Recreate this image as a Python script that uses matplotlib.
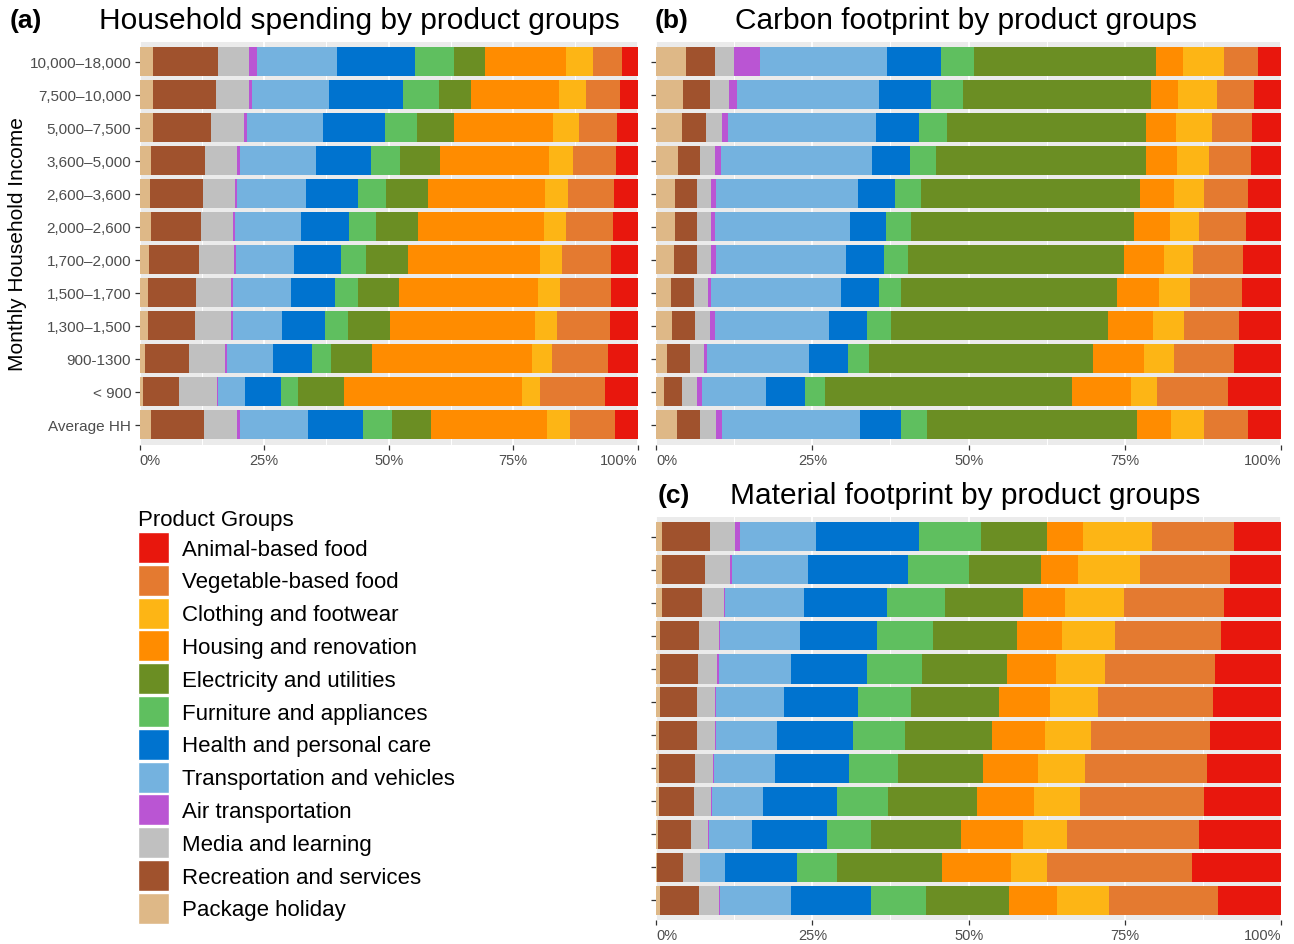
import numpy as np
import matplotlib
matplotlib.use('Agg')
import matplotlib.pyplot as plt
from matplotlib.patches import Patch

plt.rcParams['font.family'] = ['Liberation Sans', 'DejaVu Sans']

# income classes, top row first
incomes = ["10,000–18,000", "7,500–10,000", "5,000–7,500", "3,600–5,000",
           "2,600–3,600", "2,000–2,600", "1,700–2,000", "1,500–1,700",
           "1,300–1,500", "900-1300", "< 900", "Average HH"]

# stacking order, left to right
groups = ["Package holiday", "Recreation and services", "Media and learning",
          "Air transportation", "Transportation and vehicles",
          "Health and personal care", "Furniture and appliances",
          "Electricity and utilities", "Housing and renovation",
          "Clothing and footwear", "Vegetable-based food", "Animal-based food"]

colors = ["#DEB887", "#A0522D", "#C0C0C0", "#BA55D3", "#74B2DF", "#0073CF",
          "#5FBF5F", "#6B8E23", "#FF8C00", "#FDB515", "#E47A30", "#E8170D"]

# shares (%) per income class, columns follow `groups`
spending = [
    [2.8, 13.0, 6.2, 1.7, 16.0, 15.7, 7.7, 6.3, 16.2, 5.5, 5.9, 3.1],
    [2.8, 12.6, 6.6, 0.5, 15.5, 14.8, 7.2, 6.5, 17.6, 5.4, 6.8, 3.6],
    [2.7, 11.7, 6.6, 0.5, 15.4, 12.4, 6.4, 7.4, 19.9, 5.2, 7.7, 4.1],
    [2.4, 10.7, 6.5, 0.5, 15.3, 11.0, 5.8, 8.1, 21.8, 4.8, 8.6, 4.4],
    [2.2, 10.5, 6.5, 0.3, 13.9, 10.4, 5.7, 8.4, 23.5, 4.6, 9.2, 4.8],
    [2.3, 10.0, 6.5, 0.3, 13.3, 9.7, 5.3, 8.5, 25.2, 4.5, 9.4, 5.0],
    [2.0, 10.0, 6.9, 0.4, 11.8, 9.3, 5.2, 8.3, 26.6, 4.4, 9.9, 5.3],
    [1.7, 9.6, 7.1, 0.3, 11.8, 8.8, 4.6, 8.2, 28.0, 4.4, 10.2, 5.4],
    [1.8, 9.3, 7.2, 0.4, 10.0, 8.5, 4.7, 8.3, 29.2, 4.4, 10.6, 5.6],
    [1.2, 8.8, 7.2, 0.3, 9.2, 7.9, 3.8, 8.3, 32.1, 4.0, 11.2, 6.0],
    [0.7, 7.2, 7.6, 0.3, 5.4, 7.2, 3.4, 9.2, 35.8, 3.6, 13.1, 6.6],
    [2.3, 10.7, 6.6, 0.5, 13.7, 11.0, 5.8, 7.8, 23.3, 4.7, 8.9, 4.6],
]

carbon = [
    [4.8, 4.7, 2.9, 4.2, 20.3, 8.6, 5.4, 29.1, 4.2, 6.7, 5.3, 3.8],
    [4.4, 4.3, 3.0, 1.3, 22.7, 8.4, 5.1, 30.2, 4.3, 6.2, 6.0, 4.3],
    [4.1, 3.9, 2.6, 1.0, 23.6, 6.9, 4.5, 31.9, 4.7, 5.8, 6.4, 4.7],
    [3.5, 3.6, 2.4, 0.9, 24.2, 6.1, 4.2, 33.5, 5.0, 5.1, 6.7, 4.9],
    [3.0, 3.6, 2.2, 0.7, 22.7, 6.0, 4.1, 35.0, 5.4, 4.7, 7.1, 5.3],
    [3.1, 3.5, 2.2, 0.7, 21.5, 5.8, 3.9, 35.6, 5.8, 4.7, 7.4, 5.7],
    [2.8, 3.7, 2.3, 0.8, 20.7, 6.1, 3.9, 34.5, 6.3, 4.7, 8.0, 6.1],
    [2.4, 3.6, 2.3, 0.5, 20.8, 6.0, 3.6, 34.5, 6.7, 4.9, 8.3, 6.3],
    [2.6, 3.6, 2.4, 0.9, 18.2, 6.1, 3.9, 34.8, 7.1, 5.0, 8.8, 6.8],
    [1.8, 3.6, 2.2, 0.6, 16.3, 6.2, 3.4, 35.7, 8.1, 4.9, 9.6, 7.5],
    [1.2, 2.9, 2.5, 0.7, 10.3, 6.3, 3.2, 39.4, 9.4, 4.3, 11.2, 8.6],
    [3.4, 3.7, 2.5, 1.0, 22.1, 6.5, 4.2, 33.6, 5.4, 5.2, 7.1, 5.3],
]

material = [
    [1.0, 7.6, 4.1, 0.7, 12.3, 16.4, 9.9, 10.7, 5.8, 11.0, 13.2, 7.5],
    [0.9, 6.9, 4.1, 0.3, 12.2, 16.0, 9.8, 11.5, 6.0, 9.9, 14.4, 8.2],
    [0.9, 6.4, 3.5, 0.2, 12.6, 13.3, 9.3, 12.5, 6.7, 9.4, 16.0, 9.2],
    [0.7, 6.1, 3.3, 0.2, 12.7, 12.3, 9.0, 13.4, 7.1, 8.5, 17.0, 9.6],
    [0.7, 6.0, 3.1, 0.2, 11.6, 12.2, 8.8, 13.6, 7.7, 7.9, 17.6, 10.6],
    [0.7, 5.8, 2.9, 0.2, 10.8, 11.9, 8.5, 14.1, 8.1, 7.7, 18.3, 11.0],
    [0.5, 6.0, 2.9, 0.2, 9.8, 12.1, 8.4, 13.9, 8.4, 7.5, 19.0, 11.4],
    [0.5, 5.7, 2.9, 0.1, 9.8, 11.8, 7.9, 13.5, 8.8, 7.6, 19.5, 11.8],
    [0.5, 5.5, 2.8, 0.2, 8.1, 11.8, 8.2, 14.2, 9.1, 7.4, 19.8, 12.4],
    [0.3, 5.3, 2.7, 0.1, 7.0, 11.9, 7.1, 14.3, 10.0, 7.0, 21.1, 13.2],
    [0.2, 4.1, 2.7, 0.1, 3.9, 11.6, 6.4, 16.8, 10.9, 5.8, 23.2, 14.3],
    [0.7, 6.1, 3.3, 0.1, 11.4, 12.8, 8.8, 13.3, 7.6, 8.4, 17.3, 10.2],
]

W, H = 1294, 945
fig = plt.figure(figsize=(W / 100, H / 100), dpi=100)


def box(l, t, r, b):
    return [l / W, 1 - b / H, (r - l) / W, (b - t) / H]


def stacked(ax, data, show_labels):
    vals = np.array(data, dtype=float)
    vals = 100 * vals / vals.sum(axis=1, keepdims=True)
    y = np.arange(len(incomes))
    left = np.zeros(len(incomes))
    for j, g in enumerate(groups):
        ax.barh(y, vals[:, j], left=left, height=0.88, color=colors[j],
                edgecolor='none', zorder=3)
        left += vals[:, j]
    ax.set_xlim(0, 100)
    ax.set_ylim(len(incomes) - 0.4, -0.6)
    ax.set_facecolor('#EBEBEB')
    for s in ax.spines.values():
        s.set_visible(False)
    ax.set_xticks([0, 25, 50, 75, 100])
    ax.set_xticklabels(["0%", "25%", "50%", "75%", "100%"])
    ax.set_xticks([12.5, 37.5, 62.5, 87.5], minor=True)
    ax.grid(which='major', axis='x', color='white', lw=1.3, zorder=1)
    ax.grid(which='minor', axis='x', color='white', lw=0.7, zorder=1)
    ax.set_yticks(y)
    ax.set_yticklabels(incomes if show_labels else [])
    ax.tick_params(axis='both', which='major', length=3.5, width=0.9,
                   color='#333333', labelcolor='#4D4D4D', pad=2.5)
    ax.tick_params(axis='x', labelsize=10.5)
    ax.tick_params(axis='y', labelsize=11)
    ax.tick_params(which='minor', length=0)
    # keep the end labels inside the panel
    xl = ax.get_xticklabels()
    xl[0].set_horizontalalignment('left')
    xl[-1].set_horizontalalignment('right')


ax_a = fig.add_axes(box(139.5, 43, 637.7, 445.6))
ax_b = fig.add_axes(box(656, 43, 1281.3, 445.6))
ax_c = fig.add_axes(box(656, 518, 1281.3, 921.1))

stacked(ax_a, spending, True)
stacked(ax_b, carbon, False)
stacked(ax_c, material, False)

ax_a.set_ylabel("Monthly Household Income", fontsize=15)
ax_a.yaxis.set_label_coords((27 - 139.5) / 498.2, 0.5)

# panel titles
fig.text(10 / W, 1 - 21 / H, "(a)", fontsize=19, fontweight='bold', va='center')
fig.text(99 / W, 1 - 21 / H, "Household spending by product groups",
         fontsize=21.5, va='center')
fig.text(655 / W, 1 - 21 / H, "(b)", fontsize=19, fontweight='bold', va='center')
fig.text(735 / W, 1 - 21 / H, "Carbon footprint by product groups",
         fontsize=21.5, va='center')
fig.text(658 / W, 1 - 496 / H, "(c)", fontsize=19, fontweight='bold', va='center')
fig.text(730 / W, 1 - 496 / H, "Material footprint by product groups",
         fontsize=21.5, va='center')

# legend, listed from the right end of the bars
handles = [Patch(facecolor=colors[j], edgecolor='white', lw=1)
           for j in range(len(groups) - 1, -1, -1)]
labels = [groups[j] for j in range(len(groups) - 1, -1, -1)]
fig.legend(handles, labels, loc='upper left',
           bbox_to_anchor=(136 / W, 1 - 508 / H), frameon=False,
           fontsize=16, title="Product Groups", title_fontsize=16,
           alignment='left', handlelength=1.4, handleheight=1.77,
           labelspacing=0.08, handletextpad=0.55, borderpad=0.1,
           borderaxespad=0)

plt.savefig("out.png", dpi=100)
